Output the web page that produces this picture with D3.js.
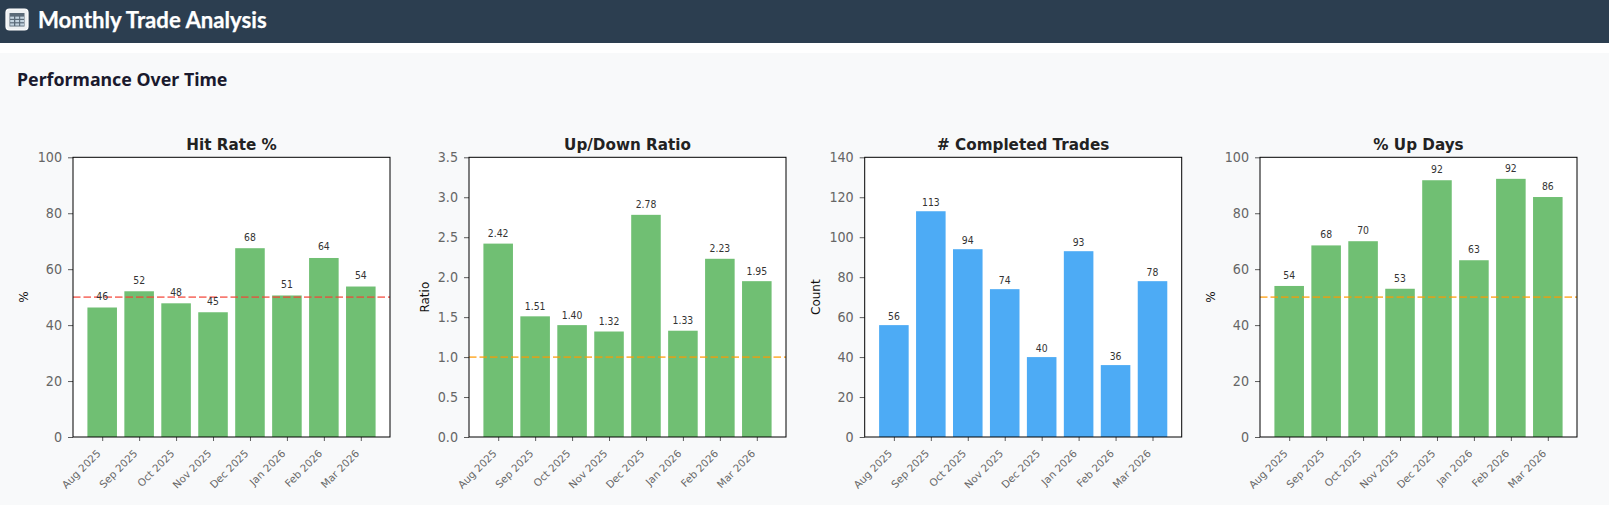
<!DOCTYPE html>
<html><head><meta charset="utf-8">
<script src="https://cdn.jsdelivr.net/npm/d3@7/dist/d3.min.js"></script>
<style>
html,body{margin:0;padding:0;background:#f8f9fa;width:1609px;height:505px;overflow:hidden}
svg{display:block}
</style></head><body><svg id="c" width="1609" height="505"></svg>
<script>
const months = ["Aug 2025","Sep 2025","Oct 2025","Nov 2025","Dec 2025","Jan 2026","Feb 2026","Mar 2026"];
const hitRate = [46.3,52.1,47.8,44.6,67.5,50.6,64,53.8];
const hitLabels = ["46","52","48","45","68","51","64","54"];
const ratio = [2.42,1.51,1.40,1.32,2.78,1.33,2.23,1.95];
const ratioLabels = ["2.42","1.51","1.40","1.32","2.78","1.33","2.23","1.95"];
const trades = [56,113,94,74,40,93,36,78];
const tradeLabels = ["56","113","94","74","40","93","36","78"];
const upDays = [54,68.5,70,53,91.8,63.2,92.3,85.8];
const upLabels = ["54","68","70","53","92","63","92","86"];
const pctTicks = [0,20,40,60,80,100];
const ratioTicks = [0,0.5,1,1.5,2,2.5,3,3.5];
const countTicks = [0,20,40,60,80,100,120,140];
const panels = [
 {title:"Hit Rate %",ylabel:"%",vals:hitRate,labels:hitLabels,ticks:pctTicks,max:100,fmt:d3.format("d"),color:"#4CAF50",x0:73,ref:50,refColor:"#f44336",off:7.5,lab:49},
 {title:"Up/Down Ratio",ylabel:"Ratio",vals:ratio,labels:ratioLabels,ticks:ratioTicks,max:3.5,fmt:d3.format(".1f"),color:"#4CAF50",x0:469,ref:1,refColor:"#ff9800",off:6.5,lab:44},
 {title:"# Completed Trades",ylabel:"Count",vals:trades,labels:tradeLabels,ticks:countTicks,max:140,fmt:d3.format("d"),color:"#2196F3",x0:864.7,off:4.8,lab:48},
 {title:"% Up Days",ylabel:"%",vals:upDays,labels:upLabels,ticks:pctTicks,max:100,fmt:d3.format("d"),color:"#4CAF50",x0:1260,ref:50,refColor:"#ff9800",off:7,lab:49}
];
const W=317,T=157.3,B=437;
const dj='"DejaVu Sans"';
const svg=d3.select("#c");
svg.append("rect").attr("width",1609).attr("height",43).attr("fill","#2c3e50");
svg.append("rect").attr("y",43).attr("width",1609).attr("height",10).attr("fill","#fff");
// header icon
const ic=svg.append("g").attr("transform","translate(6,9)");
ic.append("rect").attr("width",22).attr("height",21).attr("rx",3.5).attr("fill","#eef1f3").attr("stroke","#fff").attr("stroke-width",1.2);
ic.append("rect").attr("x",3.5).attr("y",4).attr("width",15).attr("height",13.5).attr("fill","#5a6a78");
[7.6,11,14.4].forEach(y=>[4.2,9.3,14.2].forEach(x=>ic.append("rect").attr("x",x).attr("y",y).attr("width",3.8).attr("height",2.2).attr("fill","#c3d3df")));
svg.append("text").attr("x",38).attr("y",27.5).attr("fill","#fff").attr("font-family",'Lato').attr("font-weight",700).attr("font-size",22.2).attr("stroke","#fff").attr("stroke-width",0.25).text("Monthly Trade Analysis");
svg.append("text").attr("x",17).attr("y",86).attr("fill","#1a1a2e").attr("font-family",'"Noto Sans"').attr("font-weight",700).attr("font-size",17.8).text("Performance Over Time");

panels.forEach(p=>{
 const g=svg.append("g").attr("font-family",dj);
 const x=d3.scaleLinear().domain([-0.79,7.79]).range([p.x0,p.x0+W]);
 const y=d3.scaleLinear().domain([0,p.max]).range([B,T]);
 const hw=(x(0.4)-x(0));
 g.append("rect").attr("x",p.x0).attr("y",T).attr("width",W).attr("height",B-T).attr("fill","#fff");
 g.selectAll(".bar").data(p.vals).join("rect").attr("x",(d,i)=>x(i)-hw).attr("width",2*hw).attr("y",d=>y(d)).attr("height",d=>B-y(d)).attr("fill",p.color).attr("fill-opacity",0.8);
 if(p.ref!==undefined) g.append("line").attr("x1",p.x0).attr("x2",p.x0+W).attr("y1",y(p.ref)).attr("y2",y(p.ref)).attr("stroke",p.refColor).attr("stroke-width",1.8).attr("stroke-opacity",0.7).attr("stroke-dasharray","7.5,3");
 g.selectAll(".val").data(p.vals).join("text").attr("transform",(d,i)=>`translate(${x(i)},${y(d)-p.off}) scale(0.93,1)`).attr("text-anchor","middle").attr("font-size",10).attr("fill","#333").text((d,i)=>p.labels[i]);
 // axes
 const ya=d3.axisLeft(y).tickValues(p.ticks).tickFormat(p.fmt).tickSize(5);
 const yg=g.append("g").attr("transform",`translate(${p.x0},0)`).call(ya);
 yg.select(".domain").remove();
 yg.selectAll("line").attr("stroke","#333").attr("stroke-width",0.8);
 yg.selectAll("text").attr("x",null).attr("transform","translate(-11,0) scale(0.93,1)").attr("fill","#666").attr("font-size",13.7).attr("font-family",dj);
 const xa=d3.axisBottom(x).tickValues(d3.range(months.length)).tickFormat(i=>months[i]).tickSize(4);
 const xg=g.append("g").attr("transform",`translate(0,${B})`).call(xa);
 xg.select(".domain").remove();
 xg.selectAll("line").attr("stroke","#333").attr("stroke-width",0.8);
 xg.selectAll("text").attr("fill","#666").attr("font-size",10.3).attr("font-family",dj).attr("text-anchor","end").attr("dy",null).attr("y",null)
   .attr("transform","translate(-3.5,15) rotate(-45)").attr("dominant-baseline","middle");
 g.append("rect").attr("x",p.x0).attr("y",T).attr("width",W).attr("height",B-T).attr("fill","none").attr("stroke","#000").attr("stroke-width",1);
 g.append("text").attr("x",p.x0+W/2).attr("y",T-7).attr("text-anchor","middle").attr("font-weight",700).attr("font-size",15.2).attr("fill","#222").text(p.title);
 const cy=(T+B)/2;
 g.append("text").attr("transform",`translate(${p.x0-p.lab},${cy}) rotate(-90)`).attr("text-anchor","middle").attr("dominant-baseline","middle").attr("font-size",12).attr("fill","#111").text(p.ylabel);
});
</script></body></html>
